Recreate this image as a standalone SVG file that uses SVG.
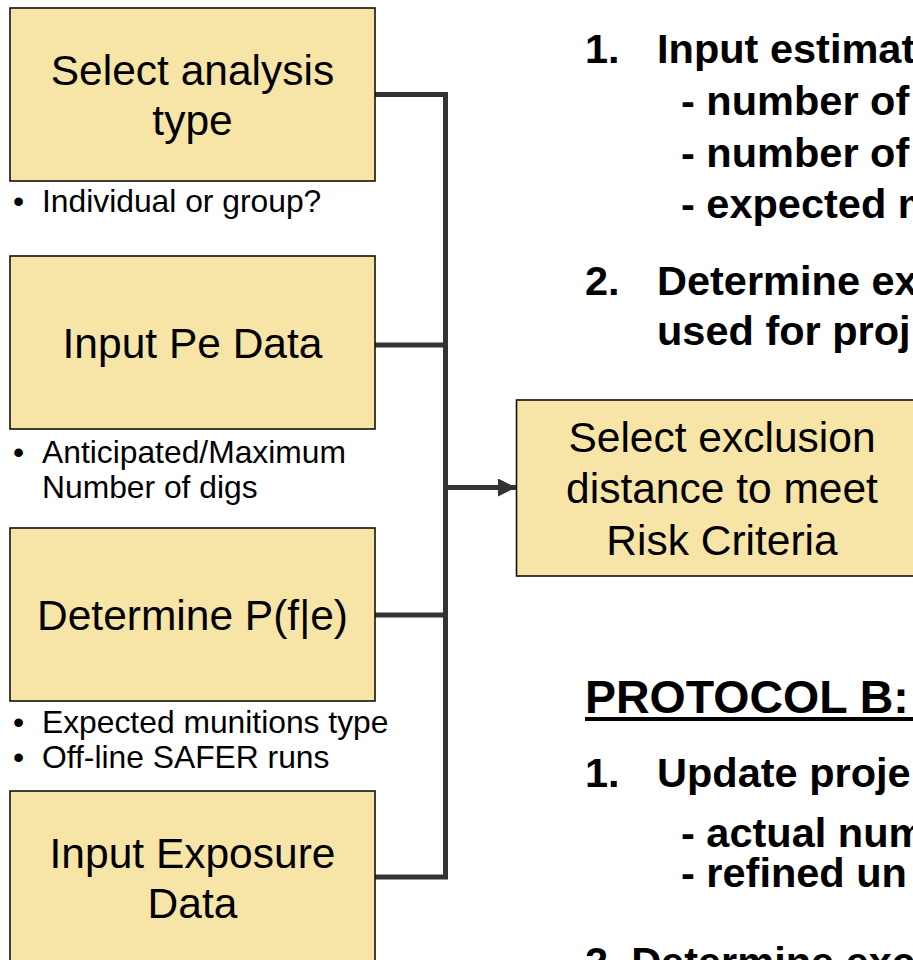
<svg xmlns="http://www.w3.org/2000/svg" width="913" height="960" viewBox="0 0 913 960">
  <defs>
    <style>
      .box { fill: #F6E5A6; stroke: #111111; stroke-width: 1.6; }
      .lbl { font-family: "Liberation Sans", Arial, sans-serif; font-size: 42.5px; fill: #000000; text-anchor: middle; }
      .note { font-family: "Liberation Sans", Arial, sans-serif; font-size: 31.8px; fill: #000000; }
      .step { font-family: "Liberation Sans", Arial, sans-serif; font-size: 41.5px; font-weight: bold; fill: #000000; }
      .head { font-family: "Liberation Sans", Arial, sans-serif; font-size: 46.5px; font-weight: bold; fill: #000000; }
      .wire { fill: none; stroke: #333333; stroke-width: 5; stroke-linejoin: miter; stroke-linecap: butt; }
    </style>
    <marker id="arrow" viewBox="0 0 18 18" refX="18" refY="9" markerWidth="18" markerHeight="18" markerUnits="userSpaceOnUse" orient="auto">
      <path d="M0,0 L18,9 L0,18 Z" fill="#333333"/>
    </marker>
  </defs>

  <rect width="913" height="960" fill="#FFFFFF"/>

  <!-- connectors: four inputs merged into one bus feeding the exclusion step -->
  <g id="connectors">
    <path class="wire" d="M375,94.5 H445.5 V877 H375"/>
    <path class="wire" d="M375,345 H445.5"/>
    <path class="wire" d="M375,615 H445.5"/>
    <path class="wire" d="M445.5,487.5 H516" marker-end="url(#arrow)"/>
  </g>

  <g id="select-analysis-type">
    <rect class="box" x="10" y="8" width="365" height="173"/>
    <text class="lbl" x="192.5" y="85">Select analysis</text>
    <text class="lbl" x="192.5" y="135">type</text>
    <text class="note" x="13" y="212">•</text>
    <text class="note" x="42" y="212">Individual or group?</text>
  </g>

  <g id="input-pe-data">
    <rect class="box" x="10" y="256" width="365" height="173"/>
    <text class="lbl" x="192.5" y="358">Input Pe Data</text>
    <text class="note" x="13" y="463">•</text>
    <text class="note" x="42" y="463">Anticipated/Maximum</text>
    <text class="note" x="42" y="498">Number of digs</text>
  </g>

  <g id="determine-pfe">
    <rect class="box" x="10" y="528" width="365" height="173"/>
    <text class="lbl" x="192.5" y="630">Determine P(f|e)</text>
    <text class="note" x="13" y="733">•</text>
    <text class="note" x="42" y="733">Expected munitions type</text>
    <text class="note" x="13" y="768">•</text>
    <text class="note" x="42" y="768">Off-line SAFER runs</text>
  </g>

  <g id="input-exposure-data">
    <rect class="box" x="10" y="791" width="365" height="200"/>
    <text class="lbl" x="192.5" y="868">Input Exposure</text>
    <text class="lbl" x="192.5" y="918">Data</text>
  </g>

  <g id="select-exclusion-distance">
    <rect class="box" x="516.5" y="400" width="440" height="176"/>
    <text class="lbl" x="722" y="452">Select exclusion</text>
    <text class="lbl" x="722" y="503">distance to meet</text>
    <text class="lbl" x="722" y="555">Risk Criteria</text>
  </g>

  <!-- protocol A steps -->
  <g id="protocol-a-steps">
    <text class="step" x="585" y="63">1.</text>
    <text class="step" x="657" y="63">Input estimat</text>
    <text class="step" x="681" y="115">- number of</text>
    <text class="step" x="681" y="167">- number of</text>
    <text class="step" x="681" y="218">- expected m</text>
    <text class="step" x="585" y="295">2.</text>
    <text class="step" x="657" y="295">Determine ex</text>
    <text class="step" x="657" y="345">used for proj</text>
  </g>

  <!-- protocol B heading and steps -->
  <g id="protocol-b">
    <text class="head" x="585" y="713">PROTOCOL B:</text>
    <rect x="585" y="717" width="330" height="4" fill="#000000"/>
    <text class="step" x="585" y="787">1.</text>
    <text class="step" x="657" y="787">Update proje</text>
    <text class="step" x="681" y="847">- actual num</text>
    <text class="step" x="681" y="887">- refined un</text>
    <text class="step" x="585" y="976">2. Determine exc</text>
  </g>
</svg>
